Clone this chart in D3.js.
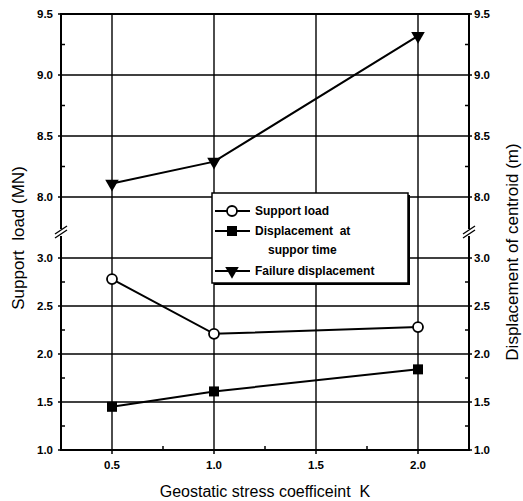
<!DOCTYPE html>
<html>
<head>
<meta charset="utf-8">
<script src="https://cdn.jsdelivr.net/npm/d3@7"></script>
<style>
  body { margin: 0; background: #fff; }
  svg { display: block; font-family: "Liberation Sans", Arial, sans-serif; }
</style>
</head>
<body>
<svg id="svg" width="523" height="501"></svg>
<script>
// data
var kValues = [0.5, 1.0, 2.0];
var supportLoad = [2.78, 2.21, 2.28];
var dispAtSupport = [1.45, 1.61, 1.84];
var failureDisp = [8.11, 8.29, 9.32];

var xTicks = [0.5, 1.0, 1.5, 2.0];
var upperTicks = [8.0, 8.5, 9.0, 9.5];
var lowerTicks = [1.0, 1.5, 2.0, 2.5, 3.0];

// frame (plotTop, not "top": window.top is read only)
var plotLeft = 61, plotRight = 469, plotTop = 14, plotBottom = 450, breakY = 233;

var svg = d3.select('#svg');

var x = d3.scaleLinear().domain([0.25, 2.25]).range([plotLeft, plotRight]);
// upper part of the broken axis
var yUp = d3.scaleLinear().domain([9.5, 8.0]).range([plotTop, 197]);
// lower part
var yLo = d3.scaleLinear().domain([3.0, 1.0]).range([258, plotBottom]);

var g = svg.append('g');

// grid
g.selectAll('line.vgrid').data(xTicks).enter().append('line')
    .attr('x1', d => x(d)).attr('x2', d => x(d))
    .attr('y1', plotTop).attr('y2', plotBottom)
    .attr('stroke', '#000').attr('stroke-width', 1.4);
g.selectAll('line.hgu').data(upperTicks.filter(d => d < 9.5)).enter().append('line')
    .attr('x1', plotLeft).attr('x2', plotRight)
    .attr('y1', d => yUp(d)).attr('y2', d => yUp(d))
    .attr('stroke', '#000').attr('stroke-width', 1.4);
g.selectAll('line.hgl').data(lowerTicks.filter(d => d > 1.0)).enter().append('line')
    .attr('x1', plotLeft).attr('x2', plotRight)
    .attr('y1', d => yLo(d)).attr('y2', d => yLo(d))
    .attr('stroke', '#000').attr('stroke-width', 1.4);

// frame
g.append('rect')
    .attr('x', plotLeft).attr('y', plotTop)
    .attr('width', plotRight - plotLeft).attr('height', plotBottom - plotTop)
    .attr('fill', 'none').attr('stroke', '#000').attr('stroke-width', 2);

// minor and major ticks
function midpoints(arr) {
  var out = [];
  for (var i = 0; i < arr.length - 1; i++) out.push((arr[i] + arr[i + 1]) / 2);
  return out;
}
var upMinor = midpoints(upperTicks);
var loMinor = midpoints(lowerTicks);
var xMinor = midpoints(xTicks);

[plotLeft, plotRight].forEach(function(ax) {
  var dir = ax === plotLeft ? 1 : -1;
  upMinor.map(yUp).concat(loMinor.map(yLo)).forEach(function(yy) {
    g.append('line').attr('x1', ax).attr('x2', ax + dir * 4)
      .attr('y1', yy).attr('y2', yy).attr('stroke', '#000').attr('stroke-width', 1.5);
  });
  upperTicks.map(yUp).concat(lowerTicks.map(yLo)).forEach(function(yy) {
    g.append('line').attr('x1', ax).attr('x2', ax - dir * 3)
      .attr('y1', yy).attr('y2', yy).attr('stroke', '#000').attr('stroke-width', 1.5);
  });
});
xTicks.forEach(function(d) {
  g.append('line').attr('x1', x(d)).attr('x2', x(d))
    .attr('y1', plotBottom).attr('y2', plotBottom + 4).attr('stroke', '#000').attr('stroke-width', 1.5);
});
xMinor.forEach(function(d) {
  g.append('line').attr('x1', x(d)).attr('x2', x(d))
    .attr('y1', plotBottom).attr('y2', plotBottom - 4).attr('stroke', '#000').attr('stroke-width', 1.5);
});

// axis break marks
[plotLeft, plotRight].forEach(function(ax) {
  g.append('rect').attr('x', ax - 3).attr('y', breakY - 4).attr('width', 6).attr('height', 7).attr('fill', '#fff');
  [-2, 2].forEach(function(off) {
    g.append('line')
      .attr('x1', ax - 6).attr('y1', breakY + 3 + off)
      .attr('x2', ax + 6).attr('y2', breakY - 5 + off)
      .attr('stroke', '#000').attr('stroke-width', 1.4);
  });
});

// tick labels
var tickFont = 'bold 11.5px "Liberation Sans", Arial, sans-serif';
function yLabels(ax, anchor, dx) {
  upperTicks.forEach(function(d) {
    g.append('text').attr('x', ax + dx).attr('y', yUp(d)).attr('dy', '0.35em')
      .attr('text-anchor', anchor).style('font', tickFont).text(d3.format('.1f')(d));
  });
  lowerTicks.forEach(function(d) {
    g.append('text').attr('x', ax + dx).attr('y', yLo(d)).attr('dy', '0.35em')
      .attr('text-anchor', anchor).style('font', tickFont).text(d3.format('.1f')(d));
  });
}
yLabels(plotLeft, 'end', -8);
yLabels(plotRight, 'start', 5);
xTicks.forEach(function(d) {
  g.append('text').attr('x', x(d)).attr('y', plotBottom + 19)
    .attr('text-anchor', 'middle').style('font', tickFont).text(d3.format('.1f')(d));
});

// axis titles
svg.append('text')
    .attr('transform', 'translate(24,238) rotate(-90)')
    .attr('text-anchor', 'middle').attr('font-size', 17)
    .attr('xml:space', 'preserve')
    .text('Support  load (MN)');
svg.append('text')
    .attr('transform', 'translate(518,252) rotate(-90)')
    .attr('text-anchor', 'middle').attr('font-size', 17)
    .text('Displacement of centroid (m)');
svg.append('text')
    .attr('x', 265).attr('y', 497)
    .attr('text-anchor', 'middle').attr('font-size', 16)
    .attr('xml:space', 'preserve')
    .text('Geostatic stress coefficeint  K');

// series
function pts(vals, ys) {
  return kValues.map((k, i) => [x(k), ys(vals[i])]);
}
var line = d3.line();
var sLoad = pts(supportLoad, yLo);
var sDisp = pts(dispAtSupport, yLo);
var sFail = pts(failureDisp, yUp);
[sLoad, sDisp, sFail].forEach(function(p) {
  g.append('path').attr('d', line(p)).attr('fill', 'none')
    .attr('stroke', '#000').attr('stroke-width', 2);
});

var tri = d3.symbol().type(d3.symbolTriangle).size(80);
function drawMarker(sel, kind, px, py) {
  if (kind === 'circle') {
    sel.append('circle').attr('cx', px).attr('cy', py).attr('r', 5)
      .attr('fill', '#fff').attr('stroke', '#000').attr('stroke-width', 1.8);
  } else if (kind === 'square') {
    sel.append('rect').attr('x', px - 5).attr('y', py - 5).attr('width', 10).attr('height', 10)
      .attr('fill', '#000');
  } else {
    sel.append('path').attr('d', tri)
      .attr('transform', 'translate(' + px + ',' + py + ') rotate(180)')
      .attr('fill', '#000');
  }
}
sLoad.forEach(p => drawMarker(g, 'circle', p[0], p[1]));
sDisp.forEach(p => drawMarker(g, 'square', p[0], p[1]));
sFail.forEach(p => drawMarker(g, 'triangle', p[0], p[1]));

// legend
var lg = svg.append('g');
lg.append('rect').attr('x', 214).attr('y', 195).attr('width', 196).attr('height', 90).attr('fill', '#000');
lg.append('rect').attr('x', 212).attr('y', 193).attr('width', 196).attr('height', 90)
    .attr('fill', '#fff').attr('stroke', '#000').attr('stroke-width', 1.5);
var legendFont = 'bold 12px "Liberation Sans", Arial, sans-serif';
var entries = [
  {kind: 'circle', y: 211, label: 'Support load'},
  {kind: 'square', y: 231, label: 'Displacement  at'},
  {kind: 'triangle', y: 271, label: 'Failure displacement'}
];
entries.forEach(function(e) {
  lg.append('line').attr('x1', 215).attr('x2', 250).attr('y1', e.y).attr('y2', e.y)
    .attr('stroke', '#000').attr('stroke-width', 1.8);
  drawMarker(lg, e.kind, 232, e.y);
  lg.append('text').attr('x', 255).attr('y', e.y).attr('dy', '0.35em')
    .attr('xml:space', 'preserve').style('font', legendFont).text(e.label);
});
lg.append('text').attr('x', 268).attr('y', 250).attr('dy', '0.35em')
    .style('font', legendFont).text('suppor time');
</script>
</body>
</html>
